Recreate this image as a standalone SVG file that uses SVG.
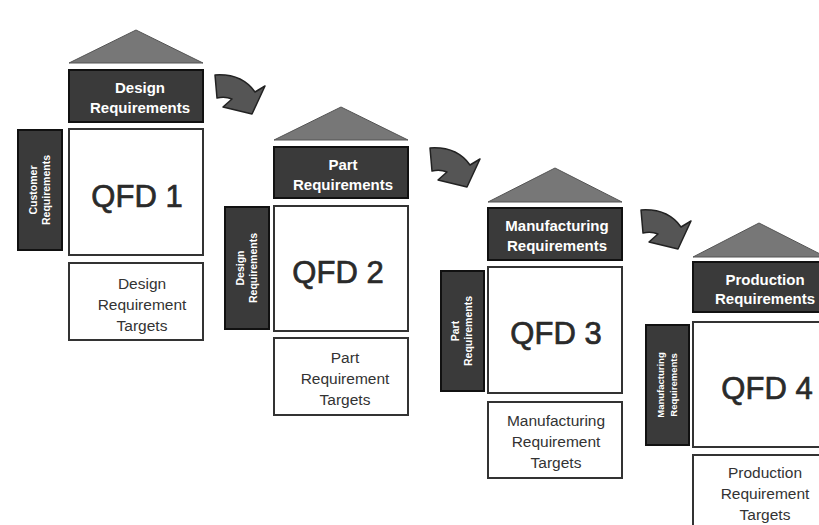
<svg xmlns="http://www.w3.org/2000/svg" width="819" height="525" viewBox="0 0 819 525">
<defs>
<style>
.roof{fill:#777;stroke:#555;stroke-width:1}
.hdr{fill:#3a3a3a;stroke:#111;stroke-width:2}
.box{fill:#fff;stroke:#333;stroke-width:2}
.side{fill:#3a3a3a;stroke:#111;stroke-width:2}
.ht{font-family:"Liberation Sans",Arial,sans-serif;font-weight:bold;font-size:15px;fill:#fff;text-anchor:middle}
.st{font-family:"Liberation Sans",Arial,sans-serif;font-weight:bold;font-size:10.5px;fill:#fff;text-anchor:middle}
.qt{font-family:"Liberation Sans",Arial,sans-serif;font-size:31px;fill:#2a2a2a;stroke:#2a2a2a;stroke-width:0.7;text-anchor:middle}
.tt{font-family:"Liberation Sans",Arial,sans-serif;font-size:15.5px;fill:#333;text-anchor:middle}
.arr{fill:#555;stroke:#222;stroke-width:1.5;stroke-linejoin:round}
</style>
<path id="arrowShape" d="M10,15 C25,14 40,18 50,32 L60,26 L47,54 L18,47 L27,39 C22,37 17,37 12,38 Z"/>
</defs>
<rect width="819" height="525" fill="#fff"/>

<g id="connectors">
<use href="#arrowShape" class="arr" transform="translate(205,60)"/>
<use href="#arrowShape" class="arr" transform="translate(420,133)"/>
<use href="#arrowShape" class="arr" transform="translate(631,195)"/>
</g>

<g id="qfd1">
<polygon class="roof" points="69,63 136,30 203,63"/>
<rect class="hdr" x="69" y="70" width="134" height="52"/>
<text class="ht" x="140" y="93">Design</text>
<text class="ht" x="140" y="113">Requirements</text>
<rect class="box" x="69" y="129" width="134" height="126"/>
<text class="qt" x="137" y="207">QFD 1</text>
<rect class="box" x="69" y="263" width="134" height="77"/>
<text class="tt" x="142" y="289">Design</text>
<text class="tt" x="142" y="310">Requirement</text>
<text class="tt" x="142" y="331">Targets</text>
<rect class="side" x="18" y="130" width="44" height="120"/>
<g transform="translate(40,190) rotate(-90)">
<text class="st" x="0" y="-3">Customer</text>
<text class="st" x="0" y="10">Requirements</text>
</g>
</g>

<g id="qfd2">
<polygon class="roof" points="274,140 341,107 408,140"/>
<rect class="hdr" x="274" y="147" width="134" height="51"/>
<text class="ht" x="343" y="170">Part</text>
<text class="ht" x="343" y="190">Requirements</text>
<rect class="box" x="274" y="206" width="134" height="125"/>
<text class="qt" x="338" y="283">QFD 2</text>
<rect class="box" x="274" y="338" width="134" height="77"/>
<text class="tt" x="345" y="363">Part</text>
<text class="tt" x="345" y="384">Requirement</text>
<text class="tt" x="345" y="405">Targets</text>
<rect class="side" x="225" y="207" width="44" height="122"/>
<g transform="translate(247,268) rotate(-90)">
<text class="st" x="0" y="-3">Design</text>
<text class="st" x="0" y="10">Requirements</text>
</g>
</g>

<g id="qfd3">
<polygon class="roof" points="488,202 555,168 622,202"/>
<rect class="hdr" x="488" y="208" width="134" height="52"/>
<text class="ht" x="557" y="231">Manufacturing</text>
<text class="ht" x="557" y="251">Requirements</text>
<rect class="box" x="488" y="267" width="134" height="126"/>
<text class="qt" x="556" y="344">QFD 3</text>
<rect class="box" x="488" y="402" width="134" height="76"/>
<text class="tt" x="556" y="426">Manufacturing</text>
<text class="tt" x="556" y="447">Requirement</text>
<text class="tt" x="556" y="468">Targets</text>
<rect class="side" x="441" y="271" width="43" height="120"/>
<g transform="translate(462,331) rotate(-90)">
<text class="st" x="0" y="-3">Part</text>
<text class="st" x="0" y="10">Requirements</text>
</g>
</g>

<g id="qfd4">
<polygon class="roof" points="693,257 759,223 826,257"/>
<rect class="hdr" x="693" y="262" width="134" height="50"/>
<text class="ht" x="765" y="285">Production</text>
<text class="ht" x="765" y="304">Requirements</text>
<rect class="box" x="693" y="322" width="134" height="125"/>
<text class="qt" x="767" y="399">QFD 4</text>
<rect class="box" x="693" y="455" width="134" height="76"/>
<text class="tt" x="765" y="478">Production</text>
<text class="tt" x="765" y="499">Requirement</text>
<text class="tt" x="765" y="520">Targets</text>
<rect class="side" x="646" y="325" width="43" height="120"/>
<g transform="translate(667,385) rotate(-90)">
<text class="st" x="0" y="-3" style="font-size:9.5px">Manufacturing</text>
<text class="st" x="0" y="10" style="font-size:9.5px">Requirements</text>
</g>
</g>
</svg>
